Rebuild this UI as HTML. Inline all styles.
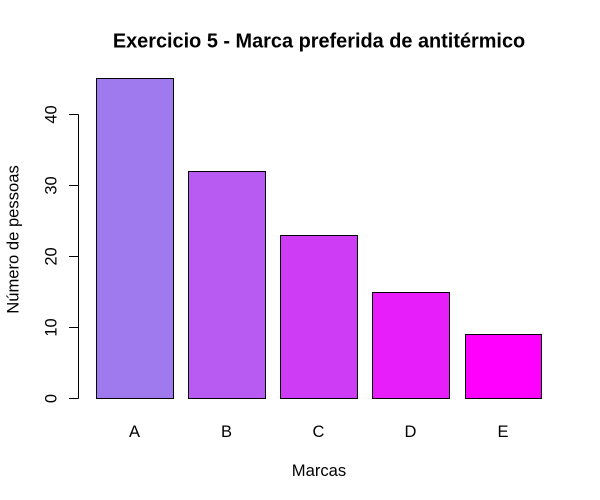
<!DOCTYPE html>
<html lang="pt">
<head>
<meta charset="utf-8">
<title>Exercicio 5 - Marca preferida de antitérmico</title>
<style>
html,body{margin:0;padding:0;background:#fff;width:600px;height:500px;overflow:hidden}
svg{display:block}
text{font-family:"Liberation Sans",Arial,sans-serif;fill:#000}
</style>
</head>
<body>
<svg id="chart" width="600" height="500" viewBox="0 0 600 500">
  <rect width="600" height="500" fill="#ffffff"></rect>
  <text x="319" y="47.5" text-anchor="middle" font-size="19.9" font-weight="bold">Exercicio 5 - Marca preferida de antitérmico</text>
  <text x="319" y="476" text-anchor="middle" font-size="16.6">Marcas</text>
  <text transform="translate(18.5,239.5) rotate(-90)" text-anchor="middle" font-size="16.6">Número de pessoas</text>
  <g id="bars"></g>
  <g id="x-labels"></g>
  <g id="y-axis"></g>
</svg>
<script>
const categories = ["A", "B", "C", "D", "E"];
const seriesValues = [45, 32, 23, 15, 9];
const barColors = ["#9F79EE", "#B75BF2", "#CF3CF6", "#E71EFA", "#FF00FF"];
const yTicks = [0, 10, 20, 30, 40];

const NS = "http://www.w3.org/2000/svg";
function snap(p) { return Math.round(p - 0.5) + 0.5; }
function yScale(v) { return snap(398.7 - v * 7.11); }
function xScale(u) { return snap(96.5 + (u - 0.2) * 76.8); }
function make(tag, attrs, parent) {
  const el = document.createElementNS(NS, tag);
  for (const k in attrs) el.setAttribute(k, attrs[k]);
  parent.appendChild(el);
  return el;
}
const barsG = document.getElementById("bars");
const labelsG = document.getElementById("x-labels");
const axisG = document.getElementById("y-axis");

categories.forEach(function (cat, i) {
  const left = xScale(0.2 + i * 1.2);
  const right = xScale(1.2 + i * 1.2);
  const top = yScale(seriesValues[i]);
  const bar = make("rect", {
    x: left, y: top, width: right - left, height: yScale(0) - top,
    fill: barColors[i], stroke: "#000", "stroke-width": 1
  }, barsG);
  
  
  const label = make("text", {
    x: (left + right) / 2 - 0.5, y: 437, "text-anchor": "middle", "font-size": 16.5
  }, labelsG);
  label.textContent = cat;
  
  
});

const axisLine = make("line", {
  x1: 78.5, x2: 78.5, y1: yScale(yTicks[0]), y2: yScale(yTicks[yTicks.length - 1]),
  stroke: "#000", "stroke-width": 1
}, axisG);



yTicks.forEach(function (t) {
  const py = yScale(t);
  const tick = make("line", {
    x1: 69, x2: 78.5, y1: py, y2: py, stroke: "#000", "stroke-width": 1
  }, axisG);
  
  
  const label = make("text", {
    transform: "translate(56.5," + py + ") rotate(-90)",
    "text-anchor": "middle", "font-size": 16.5
  }, axisG);
  label.textContent = String(t);
  
  
});
</script>
</body>
</html>
